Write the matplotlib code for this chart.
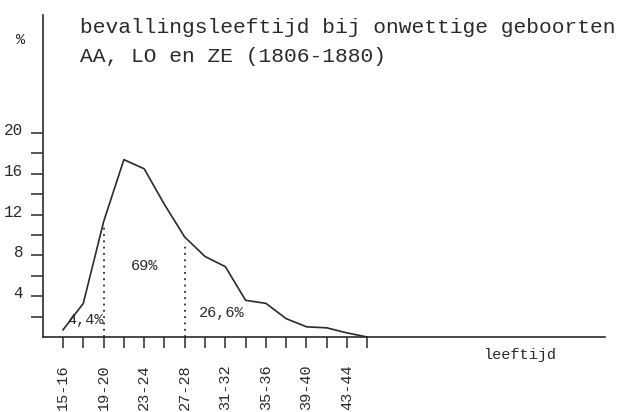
import matplotlib.pyplot as plt
import matplotlib.transforms as mtransforms
import numpy as np

# leeftijdsklassen (2 jaar) en percentages
klassen = ['15-16', '17-18', '19-20', '21-22', '23-24', '25-26', '27-28', '29-30',
           '31-32', '33-34', '35-36', '37-38', '39-40', '41-42', '43-44', '45-46']
pct = [0.7, 3.3, 11.3, 17.4, 16.5, 13.0, 9.8, 7.9,
       6.9, 3.6, 3.3, 1.8, 1.0, 0.9, 0.4, 0.0]
grenzen = ['19-20', '27-28']
aandelen = ['4,4%', '69%', '26,6%']

plt.rcParams['font.family'] = ['Liberation Mono', 'DejaVu Sans Mono']
kleur = '#2a2a2a'
fig = plt.figure(figsize=(6.19, 4.12), dpi=100)
ax = fig.add_axes([0.069, 0.182, 0.908, 0.782])

x = np.arange(len(klassen))
ax.plot(x, pct, color=kleur, lw=1.2)

# stippellijnen bij de grenzen
for g in grenzen:
    i = klassen.index(g)
    ax.plot([i, i], [0, pct[i] - 0.5], color=kleur, lw=1.3, ls=(0, (1, 2.5)))

ax.set_xlim(-1.0, 26.7)
ax.set_ylim(0, 31.6)
ax.spines['top'].set_visible(False)
ax.spines['right'].set_visible(False)
for s in ['left', 'bottom']:
    ax.spines[s].set_color(kleur)
    ax.spines[s].set_linewidth(1.2)

ax.set_xticks(x)
ax.set_xticklabels([k if i % 2 == 0 else '' for i, k in enumerate(klassen)],
                   rotation=90, fontsize=11)
ax.tick_params(axis='x', length=8, width=1.1, direction='out', pad=12, colors=kleur)
ax.set_yticks([4, 8, 12, 16, 20])
ax.set_yticks([2, 6, 10, 14, 18], minor=True)
ax.tick_params(axis='y', which='both', length=9, width=1.1, direction='out', pad=5,
               labelsize=11.5, colors=kleur)
omhoog = mtransforms.ScaledTranslation(0, 3 / 72, fig.dpi_scale_trans)
for t in ax.get_yticklabels():
    t.set_transform(t.get_transform() + omhoog)

kw = dict(color=kleur, fontsize=11)
ax.text(0.2, 1.7, aandelen[0], va='center', ha='left', **kw)
ax.text(4.0, 7.0, aandelen[1], va='center', ha='center', **kw)
ax.text(7.8, 2.35, aandelen[2], va='center', ha='center', **kw)
ax.text(22.5, -1.8, 'leeftijd', va='center', ha='center', **kw)
ax.text(-2.1, 29.1, '%', va='center', ha='center', **kw)
ax.text(0.85, 30.4, 'bevallingsleeftijd bij onwettige geboorten', va='center',
        ha='left', color=kleur, fontsize=15.3)
ax.text(0.85, 27.5, 'AA, LO en ZE (1806-1880)', va='center',
        ha='left', color=kleur, fontsize=15.3)

fig.savefig('out.png', dpi=100)
